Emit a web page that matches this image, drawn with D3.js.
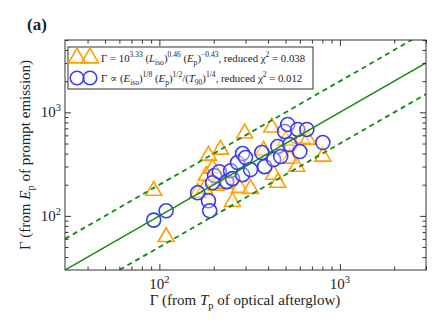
<!DOCTYPE html>
<html><head>
<meta charset="utf-8">
<script src="https://d3js.org/d3.v7.min.js"></script>
<style>
body{margin:0;background:#fff;}
text{font-family:"Liberation Serif","DejaVu Serif",serif;fill:#222;}
</style>
</head>
<body>
<script>
// Gamma from T_p (x) vs Gamma from E_p (y)
const triX = [93,109,163,178,182,187,197,207,218,233,254,278,297,320,378,419,430,453,501,527,577,615,664,805];
const triY = [179,64,171,187,250,391,293,200,447,209,140,191,640,187,437,731,256,214,547,366,306,571,559,383];
const cirX = [93,109,163,187,190,202,197,215,236,248,254,271,289,300,289,320,369,383,430,453,470,494,514,527,584,600,656,805];
const cirY = [91,112,167,140,112,245,209,267,214,273,229,327,400,366,250,280,409,299,350,468,374,654,764,489,684,418,684,511];
const majorTicks = [100,1000];
const xMinor = [40,50,60,70,80,90,200,300,400,500,600,700,800,900,2000,3000];
const yMinor = [40,50,60,70,80,90,200,300,400,500,600,700,800,900,2000,3000,4000,5000];
const ratios = [1,2,0.5];

const W = 443, H = 332;
const box = {left:65, right:426, top:40, bottom:270};

const svg = d3.select("body").append("svg").attr("width",W).attr("height",H);

const x = d3.scaleLog().domain([30,3000]).range([box.left, box.right]);
const y = d3.scaleLog().domain([30,5000]).range([box.bottom, box.top]);

svg.append("clipPath").attr("id","clip").append("rect")
  .attr("x",box.left).attr("y",box.top)
  .attr("width",box.right-box.left).attr("height",box.bottom-box.top);

const plot = svg.append("g").attr("clip-path","url(#clip)");

// triangles
const tri = d3.symbol().type(d3.symbolTriangle).size(110);
plot.selectAll(".tri").data(d3.zip(triX,triY)).enter().append("path")
  .attr("class","tri")
  .attr("d", tri)
  .attr("transform", d => "translate(" + x(d[0]) + "," + (y(d[1])+1) + ")")
  .attr("fill","rgba(255,255,255,0.35)")
  .attr("stroke","#ffa000").attr("stroke-width",1.6);

// circles
plot.selectAll(".cir").data(d3.zip(cirX,cirY)).enter().append("circle")
  .attr("class","cir")
  .attr("cx", d => x(d[0])).attr("cy", d => y(d[1])).attr("r",7)
  .attr("fill","rgba(255,255,255,0.35)")
  .attr("stroke","#3c3cf0").attr("stroke-width",1.6);

// y = x and y = 2x, x/2
ratios.forEach((k,i) => {
  plot.append("line")
    .attr("x1", x(30)).attr("y1", y(30*k))
    .attr("x2", x(3000)).attr("y2", y(3000*k))
    .attr("stroke","#108a10")
    .attr("stroke-width", i==0 ? 1.5 : 1.8)
    .attr("stroke-dasharray", i==0 ? null : "5,4");
});

// axes with inward ticks on all sides
function ticks(axisFn, scale, vals, size, transform){
  svg.append("g").attr("transform",transform)
    .call(axisFn(scale).tickValues(vals).tickSizeInner(-size).tickSizeOuter(0).tickFormat(""))
    .call(g => g.select(".domain").remove())
    .selectAll("line").attr("stroke","#333");
}
ticks(d3.axisBottom, x, majorTicks, 6, "translate(0," + box.bottom + ")");
ticks(d3.axisBottom, x, xMinor, 3.5, "translate(0," + box.bottom + ")");
ticks(d3.axisTop, x, majorTicks, 6, "translate(0," + box.top + ")");
ticks(d3.axisTop, x, xMinor, 3.5, "translate(0," + box.top + ")");
ticks(d3.axisLeft, y, majorTicks, 6, "translate(" + box.left + ",0)");
ticks(d3.axisLeft, y, yMinor, 3.5, "translate(" + box.left + ",0)");
ticks(d3.axisRight, y, majorTicks, 6, "translate(" + box.right + ",0)");
ticks(d3.axisRight, y, yMinor, 3.5, "translate(" + box.right + ",0)");

svg.append("rect")
  .attr("x",box.left).attr("y",box.top)
  .attr("width",box.right-box.left).attr("height",box.bottom-box.top)
  .attr("fill","none").attr("stroke","#333").attr("stroke-width",1);

// rich text helper: segments [text, kind]
function rich(sel, segs, fs){
  let off = 0;
  segs.forEach(s => {
    let kind = s[1] || "";
    let target = 0, size = fs;
    if(kind.includes("sup")){ target = -fs*0.42; size = fs*0.7; }
    if(kind.includes("sub")){ target = fs*0.25; size = fs*0.7; }
    const t = sel.append("tspan").text(s[0])
      .attr("dy", target - off)
      .style("font-size", size + "px");
    if(kind.includes("i")) t.style("font-style","italic");
    off = target;
  });
}

// tick labels
majorTicks.forEach((v,i) => {
  const e = String(i+2);
  rich(svg.append("text").attr("x", x(v)).attr("y", 289).attr("text-anchor","middle"),
       [["10"],[e,"sup"]], 15);
  rich(svg.append("text").attr("x", box.left-4).attr("y", y(v)+5).attr("text-anchor","end"),
       [["10"],[e,"sup"]], 15);
});

// axis titles
rich(svg.append("text").attr("x", 245).attr("y", 305).attr("text-anchor","middle"),
  [["Γ (from "],["T","i"],["p","sub"],[" of optical afterglow)"]], 15);
rich(svg.append("text").attr("transform","translate(30,155) rotate(-90)").attr("text-anchor","middle"),
  [["Γ (from "],["E","i"],["p","sub"],[" of prompt emission)"]], 15);

// panel label
svg.append("text").attr("x",27).attr("y",30).text("(a)")
  .style("font-size","17px").style("font-weight","bold");

// legend
svg.append("rect").attr("x",68).attr("y",47).attr("width",245).attr("height",42)
  .attr("fill","#fff").attr("stroke","#333").attr("stroke-width",1);
[77,90].forEach(cx => {
  svg.append("path").attr("d", d3.symbol().type(d3.symbolTriangle).size(125))
    .attr("transform","translate(" + cx + ",58)")
    .attr("fill","none").attr("stroke","#ffa000").attr("stroke-width",1.6);
  svg.append("circle").attr("cx",cx).attr("cy",78).attr("r",6.8)
    .attr("fill","none").attr("stroke","#3c3cf0").attr("stroke-width",1.6);
});
rich(svg.append("text").attr("x",101).attr("y",62),
  [["Γ = 10"],["3.33","sup"],[" ("],["L","i"],["iso","sub"],[")"],["0.46","sup"],[" ("],["E","i"],["p","sub"],[")"],["−0.43","sup"],[", reduced χ"],["2","sup"],[" = 0.038"]], 10.8);
rich(svg.append("text").attr("x",101).attr("y",82),
  [["Γ  ∝ ("],["E","i"],["iso","sub"],[")"],["1/8","sup"],[" ("],["E","i"],["p","sub"],[")"],["1/2","sup"],["/("],["T","i"],["90","sub"],[")"],["1/4","sup"],[", reduced χ"],["2","sup"],[" = 0.012"]], 10.8);
</script>
</body>
</html>
